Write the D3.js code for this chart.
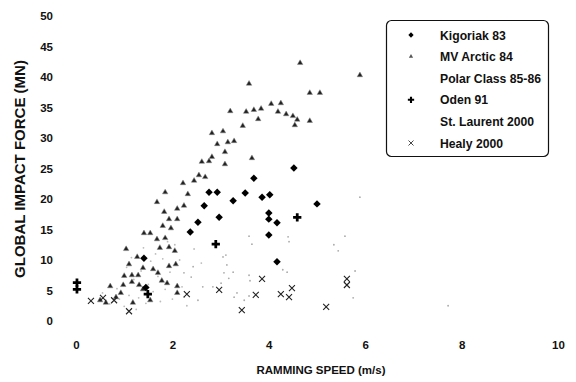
<!DOCTYPE html>
<html>
<head>
<meta charset="utf-8">
<script src="https://cdn.jsdelivr.net/npm/d3@7/dist/d3.min.js"></script>
<style>
  body { margin: 0; background: #fff; }
  svg text { font-family: Arial, "Liberation Sans", sans-serif; font-weight: bold; fill: #111; }
</style>
</head>
<body>
<div id="chart"></div>
<script>
// ramming speed (m/s), global impact force (MN)
const kigoriak = [
  [1.41, 10.3], [1.45, 5.5], [2.37, 14.6], [2.53, 16.2], [2.66, 18.9], [2.76, 21.1],
  [2.93, 21.1], [2.97, 17.0], [3.26, 19.7], [3.51, 21.0], [3.69, 23.4], [3.86, 20.3],
  [4.02, 20.7], [4.00, 17.7], [4.00, 16.7], [4.17, 16.1], [4.00, 14.1], [4.17, 9.7],
  [4.52, 25.1], [5.00, 19.2]
];
const mvArctic = [
  [5.89, 40.3], [4.65, 42.3], [3.59, 38.9], [4.85, 37.4], [5.06, 37.4], [3.20, 34.4],
  [3.53, 34.3], [3.69, 34.6], [3.84, 34.8], [4.05, 35.6], [4.25, 35.7], [4.19, 34.3],
  [4.36, 33.9], [4.50, 33.6], [4.59, 33.0], [4.54, 32.1], [4.85, 32.8], [3.78, 33.1],
  [3.46, 32.0], [2.82, 30.8], [3.05, 31.1], [2.93, 29.0], [3.15, 29.3], [3.28, 29.5],
  [3.09, 27.7], [2.82, 26.9], [2.76, 26.2], [2.61, 26.1], [3.09, 25.7], [3.65, 26.7],
  [2.55, 23.9], [2.68, 23.6], [2.22, 22.6], [2.45, 23.0], [1.85, 21.1], [2.32, 20.8],
  [1.68, 19.5], [2.10, 18.4], [2.24, 18.9], [1.83, 17.9], [1.93, 16.7], [2.10, 16.7],
  [1.80, 15.6], [1.97, 15.2], [1.41, 14.4], [1.54, 14.4], [1.68, 13.4], [1.85, 13.6],
  [1.93, 12.1], [2.05, 11.5], [1.74, 12.0], [1.04, 11.8], [1.27, 10.5], [1.10, 9.3],
  [1.39, 8.7], [1.60, 8.5], [1.70, 7.9], [1.93, 9.0], [2.07, 9.3], [1.16, 7.5],
  [1.29, 7.5], [1.00, 7.4], [0.71, 5.7], [0.98, 5.9], [1.16, 6.4], [1.31, 5.9],
  [1.78, 6.6], [1.89, 6.2], [2.10, 5.7], [0.93, 4.6], [0.83, 3.9], [0.62, 3.0],
  [0.50, 3.4], [1.39, 5.2], [1.54, 3.4], [1.18, 3.0], [2.10, 4.6]
];
const polarClass = [
  [0.55, 4.6], [0.70, 2.8], [0.90, 3.6], [1.00, 2.4], [1.10, 4.2], [1.20, 6.8],
  [1.30, 3.8], [1.35, 8.2], [1.45, 2.9], [1.50, 6.0], [1.55, 9.8], [1.60, 4.8],
  [1.65, 11.0], [1.70, 7.3], [1.75, 3.2], [1.80, 10.2], [1.85, 5.2], [1.90, 13.0],
  [1.95, 8.0], [2.00, 3.6], [2.05, 12.5], [2.15, 10.0], [2.20, 5.6], [2.30, 2.5],
  [1.25, 1.9], [0.85, 5.3], [1.05, 8.8], [1.15, 10.4], [1.40, 12.0], [2.45, 11.8],
  [2.60, 9.5]
];
const oden = [[0.02, 6.3], [0.02, 5.2], [1.49, 4.4], [2.90, 12.6], [4.59, 17.0]];
const stLaurent = [
  [3.05, 10.5], [3.13, 9.2], [3.07, 7.9], [3.17, 7.0], [3.26, 8.0], [3.59, 7.5],
  [3.65, 12.6], [4.40, 13.8], [4.42, 13.0], [4.29, 8.4], [4.38, 8.0], [5.89, 20.3],
  [5.58, 13.9], [5.35, 12.5], [5.44, 11.5], [5.79, 8.2], [5.75, 3.8], [7.72, 2.5],
  [3.82, 20.3], [2.43, 8.9], [2.24, 7.9], [2.39, 7.2], [2.63, 5.6], [2.84, 5.6],
  [3.01, 6.2], [3.11, 10.8], [3.34, 4.6], [3.28, 3.9], [3.61, 6.6], [3.59, 4.1],
  [3.49, 3.4], [2.53, 3.4], [2.24, 3.9], [3.59, 13.9]
];
const healy = [
  [0.31, 3.3], [0.56, 3.8], [0.79, 3.4], [1.10, 1.6], [2.30, 4.4], [2.97, 5.1],
  [3.44, 1.8], [3.73, 4.3], [3.86, 6.9], [4.25, 4.4], [4.42, 3.9], [4.48, 5.4],
  [5.19, 2.3], [5.62, 6.9], [5.62, 5.9]
];
const xTicks = [0, 2, 4, 6, 8, 10];
const yTicks = [0, 5, 10, 15, 20, 25, 30, 35, 40, 45, 50];
const seriesNames = ['Kigoriak 83', 'MV Arctic 84', 'Polar Class 85-86', 'Oden 91', 'St. Laurent 2000', 'Healy 2000'];

const width = 576, height = 382;
const svg = d3.select('#chart').append('svg').attr('width', width).attr('height', height);

const x = d3.scaleLinear().domain([0, 10]).range([76, 558]);
const y = d3.scaleLinear().domain([0, 50]).range([321, 16]);

// tick labels only, no axis lines
const xAxis = svg.append('g').attr('transform', 'translate(0, 341)')
  .call(d3.axisBottom(x).tickValues(xTicks).tickSize(0).tickPadding(0));
const yAxis = svg.append('g').attr('transform', 'translate(53, 0)')
  .call(d3.axisLeft(y).tickValues(yTicks).tickSize(0).tickPadding(0));
[xAxis, yAxis].forEach(a => {
  a.select('.domain').remove();
  a.selectAll('text').attr('font-size', 11.5).attr('font-family', null).style('fill', '#111');
});

svg.append('text').attr('x', 321).attr('y', 374).attr('text-anchor', 'middle')
  .attr('font-size', 11.5).text('RAMMING SPEED (m/s)');
svg.append('text').attr('transform', 'translate(25, 169) rotate(-90)').attr('text-anchor', 'middle')
  .attr('font-size', 15).text('GLOBAL IMPACT FORCE (MN)');

// marker drawers
const diamond = d3.symbol().type(d3.symbolSquare).size(28);
const tri = d3.symbol().type(d3.symbolTriangle).size(13);
const plus = d3.symbol().type(d3.symbolCross).size(38);

function dots(data, color, r) {
  svg.append('g').selectAll('circle').data(data).enter().append('circle')
    .attr('cx', d => x(d[0])).attr('cy', d => y(d[1])).attr('r', r).attr('fill', color);
}
dots(polarClass, '#bbb', 0.9);
dots(stLaurent, '#aaa', 0.9);

svg.append('g').selectAll('path').data(mvArctic).enter().append('path')
  .attr('d', tri).attr('transform', d => `translate(${x(d[0])},${y(d[1])})`)
  .attr('fill', '#222').attr('stroke', '#888').attr('stroke-width', 0.5);

svg.append('g').selectAll('path').data(kigoriak).enter().append('path')
  .attr('d', diamond).attr('transform', d => `translate(${x(d[0])},${y(d[1])}) rotate(45)`).attr('fill', '#000');

svg.append('g').selectAll('path').data(oden).enter().append('path')
  .attr('d', plus).attr('transform', d => `translate(${x(d[0])},${y(d[1])})`).attr('fill', '#000');

const xMark = 'M-3,-3L3,3M-3,3L3,-3';
svg.append('g').selectAll('path').data(healy).enter().append('path')
  .attr('d', xMark).attr('transform', d => `translate(${x(d[0])},${y(d[1])})`)
  .attr('stroke', '#222').attr('stroke-width', 1.1).attr('fill', 'none');

// legend
const lg = svg.append('g').attr('transform', 'translate(386, 20)');
lg.append('rect').attr('x', 0.5).attr('y', 0.5).attr('width', 162).attr('height', 136)
  .attr('rx', 5).attr('fill', '#fff').attr('stroke', '#111').attr('stroke-width', 1.2);
const rowY = d3.scalePoint().domain(seriesNames).range([15, 123]);
lg.selectAll('.lt').data(seriesNames).enter().append('text').attr('class', 'lt')
  .attr('x', 54).attr('y', d => rowY(d) + 4.5).attr('font-size', 12.2).text(d => d);
const mk = n => `translate(25,${rowY(n)})`;
lg.append('path').attr('d', d3.symbol().type(d3.symbolSquare).size(14)).attr('transform', mk(seriesNames[0]) + ' rotate(45)').attr('fill', '#000');
lg.append('path').attr('d', d3.symbol().type(d3.symbolTriangle).size(8)).attr('transform', mk(seriesNames[1])).attr('fill', '#555');
lg.append('path').attr('d', d3.symbol().type(d3.symbolCross).size(22)).attr('transform', mk(seriesNames[3])).attr('fill', '#000');
lg.append('path').attr('d', 'M-2.5,-2.5L2.5,2.5M-2.5,2.5L2.5,-2.5').attr('transform', mk(seriesNames[5]))
  .attr('stroke', '#333').attr('stroke-width', 0.9);
</script>
</body>
</html>
